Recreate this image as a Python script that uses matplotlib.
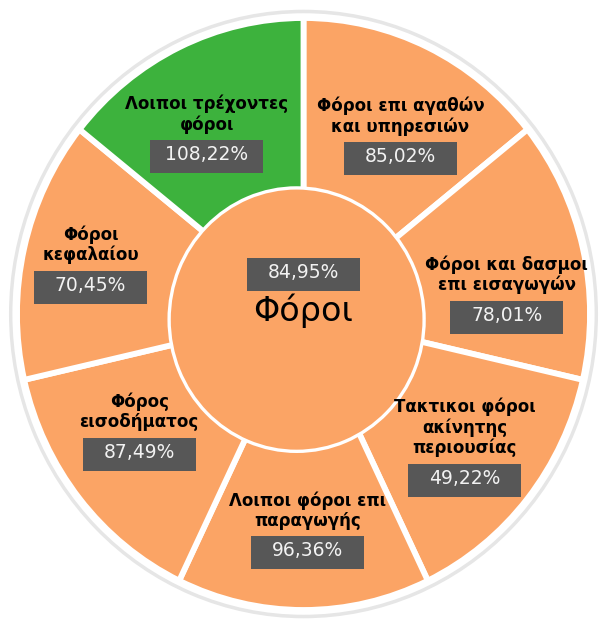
import matplotlib.pyplot as plt
import numpy as np
from matplotlib.path import Path

# -----------------------------------------------------------
# Datos (en el sentido de las agujas del reloj desde las 12)
# -----------------------------------------------------------
categorias = [
    "Φόροι επι αγαθών\nκαι υπηρεσιών",
    "Φόροι και δασμοι\nεπι εισαγωγών",
    "Τακτικοι φόροι\nακίνητης\nπεριουσίας",
    "Λοιποι φόροι επι\nπαραγωγής",
    "Φόρος\nεισοδήματος",
    "Φόροι\nκεφαλαίου",
    "Λοιποι τρέχοντες\nφόροι",
]
porcentajes = [85.02, 78.01, 49.22, 96.36, 87.49, 70.45, 108.22]
pesos = [1, 1, 1, 1, 1, 1, 1]  # todas las porciones iguales
total_nombre = "Φόροι"
total_pct = 84.95

# posicion de cada caja de valor: radio y desvio del angulo medio (grados)
radio_etq = [0.63, 0.71, 0.79, 0.80, 0.74, 0.75, 0.635]
desvio_ang = [-6.8, -13.2, -6.1, 1.1, 0.6, 5.4, 6.4]

NARANJA = "#FBA465"
VERDE = "#3DB23D"
CAJA = "#575757"


def fmt(v):
    return f"{v:.2f}%".replace(".", ",")


def caja_fija(x0, y0, width, height, mutation_size):
    # caja de tamaño fijo (px) centrada en el texto
    cx, cy = x0 + width / 2, y0 + height / 2 - 2
    w, h = 113, 33
    return Path([(cx - w / 2, cy - h / 2), (cx + w / 2, cy - h / 2),
                 (cx + w / 2, cy + h / 2), (cx - w / 2, cy + h / 2),
                 (cx - w / 2, cy - h / 2)], closed=True)


fig = plt.figure(figsize=(6.0, 6.22), dpi=100)
ax = fig.add_axes([0, 0, 1, 1])

colores = [VERDE if v > 100 else NARANJA for v in porcentajes]

# anillo gris exterior (sombra)
ax.pie([1], radius=1.028, colors=["#e6e6e6"], wedgeprops=dict(width=0.012, linewidth=0))

# anillo exterior
ax.pie(pesos, radius=1.0, colors=colores, startangle=90, counterclock=False,
       wedgeprops=dict(edgecolor="white", linewidth=4.2))

# circulo central
c_in = (-0.024, -0.019)
ax.pie([1], radius=0.445, center=c_in, colors=[NARANJA],
       wedgeprops=dict(edgecolor="white", linewidth=2.4))

# etiquetas de las porciones
paso = 360 / len(pesos)
for i, (cat, v) in enumerate(zip(categorias, porcentajes)):
    ang = np.deg2rad(90 - (i + 0.5) * paso + desvio_ang[i])
    r = radio_etq[i]
    xy = (r * np.cos(ang), r * np.sin(ang))
    ax.annotate(fmt(v), xy, xytext=(0, 0), textcoords="offset pixels",
                ha="center", va="center", fontsize=13.5, color="#F2F2F2",
                bbox=dict(boxstyle=caja_fija, fc=CAJA, ec="none"))
    ax.annotate(cat, xy, xytext=(0, 21), textcoords="offset pixels",
                ha="center", va="bottom", fontsize=12, fontweight="bold",
                color="black", linespacing=1.15, multialignment="center")

# etiquetas del centro
ax.annotate(fmt(total_pct), (0, 0), xytext=(0, 41), textcoords="offset pixels",
            ha="center", va="center", fontsize=13.5, color="#F2F2F2",
            bbox=dict(boxstyle=caja_fija, fc=CAJA, ec="none"))
ax.annotate(total_nombre, (0, 0), xytext=(0, 3), textcoords="offset pixels",
            ha="center", va="center", fontsize=24, color="black")

# limites: el grafico original esta algo estirado en vertical
ax.set_xlim(-303.5 / 286.5, (600 - 303.5) / 286.5)
ax.set_ylim(-308 / 296, (622 - 308) / 296)
ax.set_aspect("auto")
ax.axis("off")

fig.savefig("out.png", dpi=100)
